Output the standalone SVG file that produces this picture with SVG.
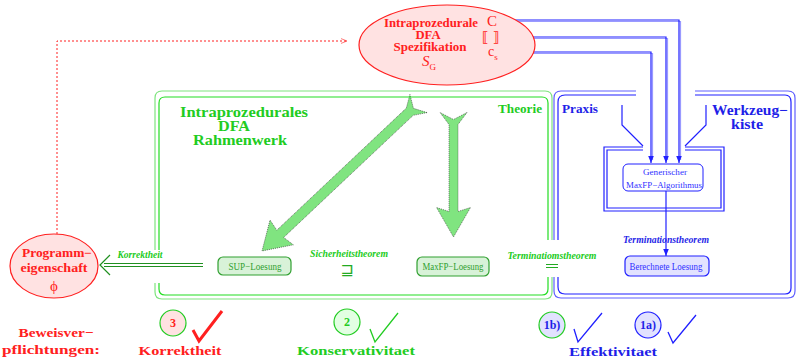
<svg xmlns="http://www.w3.org/2000/svg" width="796" height="359" viewBox="0 0 796 359">
<defs>
<style>
.b{font-family:"Liberation Serif",serif;font-weight:bold}
.i{font-family:"Liberation Serif",serif;font-weight:bold;font-style:italic}
.n{font-family:"Liberation Serif",serif}
.red{fill:#ff2020}.grn{fill:#22cc22}.blu{fill:#1f1fe8}
.fat{fill:#80e480;stroke:#333;stroke-width:0.6;stroke-dasharray:1 1}
.bl{fill:none;stroke:#2020ff;stroke-width:1.2}
.bl2{fill:none;stroke:#9a9aff;stroke-width:1.2}
</style>
<marker id="ab" viewBox="0 0 10 10" refX="10" refY="5" markerWidth="7" markerHeight="7" orient="auto" markerUnits="userSpaceOnUse"><path d="M0,1 L10,5 L0,9 Z" fill="#2020ff"/></marker>
<marker id="ar" viewBox="0 0 10 10" refX="10" refY="5" markerWidth="7" markerHeight="6" orient="auto" markerUnits="userSpaceOnUse"><path d="M0,1 L10,5 L0,9" fill="none" stroke="#ff2020"/></marker>
</defs>
<rect width="796" height="359" fill="#fff"/>

<g id="connectors">
<path d="M57,234 V41 H347" fill="none" stroke="#ff2020" stroke-width="1" stroke-dasharray="2 2" marker-end="url(#ar)"/>
<path class="bl2" d="M505,21.5 H680.5 V160"/>
<path class="bl2" d="M505,38.5 H667.5 V160"/>
<path class="bl2" d="M505,53.5 H652.5 V160"/>
<path class="bl" d="M505,20 H679 V163" marker-end="url(#ab)"/>
<path class="bl" d="M505,37 H666 V163" marker-end="url(#ab)"/>
<path class="bl" d="M505,52 H651 V163" marker-end="url(#ab)"/>
<path class="bl" d="M666,191 V256" marker-end="url(#ab)"/>
<path class="bl" d="M622,105 V125 L643,146 M706,105 V125 L685,146"/>
<path class="bl" d="M643,147 H604 V211 H724 V147 H685"/>
<path class="bl" d="M643,150 H607 V208 H721 V150 H685"/>
<path d="M203,263.5 H104 M203,266.5 H104" stroke="#209020" stroke-width="1" fill="none"/>
<path d="M110,255 L100,265 L110,275" stroke="#209020" stroke-width="1.2" fill="none"/>
<g transform="translate(418.5,103.5) rotate(136.7)"><path class="fat" d="M0,-12.5 L12,-5 L190,-5 L188,-17 L215,0 L188,17 L190,5 L12,5 L0,12.5 L7,0 Z"/></g>
<g transform="translate(453.5,112.5) rotate(90)"><path class="fat" d="M0,-13.5 L12,-4.5 L99,-4.5 L95,-17 L124.5,0 L95,17 L99,4.5 L12,4.5 L0,13.5 L7,0 Z"/></g>
</g>

<g id="theorie">
<path d="M552,240 V98 Q552,91 545,91 H162 Q155,91 155,98 V250 M155,283 V292 Q155,299 162,299 H545 Q552,299 552,292 V277" fill="none" stroke="#7ee47e" stroke-width="1.2"/>
<path d="M548,240 V103 Q548,97 542,97 H165 Q159,97 159,103 V250 M159,283 V289 Q159,295 165,295 H542 Q548,295 548,289 V277" fill="none" stroke="#22dd22" stroke-width="1.2"/>
<text class="b grn" x="244" y="117" font-size="14" text-anchor="middle" textLength="128" lengthAdjust="spacingAndGlyphs">Intraprozedurales</text>
<text class="b grn" x="234" y="131" font-size="14" text-anchor="middle" textLength="32" lengthAdjust="spacingAndGlyphs">DFA</text>
<text class="b grn" x="240" y="145" font-size="14" text-anchor="middle" textLength="94" lengthAdjust="spacingAndGlyphs">Rahmenwerk</text>
<text class="b grn" x="520" y="113" font-size="13" text-anchor="middle" textLength="44" lengthAdjust="spacingAndGlyphs">Theorie</text>
</g>

<g id="praxis">
<path d="M636,91 H561 Q554,91 554,98 V240 M554,277 V291 Q554,298 561,298 H788 Q795,298 795,291 V98 Q795,91 788,91 H695" fill="none" stroke="#6060ff" stroke-width="1.2"/>
<path d="M636,95 H565 Q558,95 558,102 V240 M558,277 V287 Q558,294 565,294 H785 Q791,294 791,288 V102 Q791,95 785,95 H695" fill="none" stroke="#2020ff" stroke-width="1.2"/>
<text class="b blu" x="580" y="113" font-size="13" text-anchor="middle" textLength="36" lengthAdjust="spacingAndGlyphs">Praxis</text>
<text class="b blu" x="750" y="115" font-size="14" text-anchor="middle" textLength="76" lengthAdjust="spacingAndGlyphs">Werkzeug−</text>
<text class="b blu" x="747" y="129" font-size="14" text-anchor="middle" textLength="32" lengthAdjust="spacingAndGlyphs">kiste</text>
</g>

<g id="spezifikation">
<ellipse cx="447" cy="45" rx="88" ry="40" fill="#ffe2e2" stroke="#ff2020" stroke-width="1.2"/>
<text class="b red" x="431" y="27" font-size="11.5" text-anchor="middle" textLength="94" lengthAdjust="spacingAndGlyphs">Intraprozedurale</text>
<text class="b red" x="428" y="39" font-size="11.5" text-anchor="middle" textLength="25" lengthAdjust="spacingAndGlyphs">DFA</text>
<text class="b red" x="430" y="51" font-size="11.5" text-anchor="middle" textLength="73" lengthAdjust="spacingAndGlyphs">Spezifikation</text>
<text class="n red" x="422" y="66" font-size="15" font-style="italic">S<tspan font-size="9" dy="4" font-style="normal">G</tspan></text>
<text class="n red" x="487" y="26" font-size="15">C</text>
<text x="482" y="42" font-size="14" fill="#ff2020" font-family="DejaVu Sans,sans-serif" font-weight="bold" textLength="17" lengthAdjust="spacingAndGlyphs">⟦ ⟧</text>
<text class="n red" x="488" y="56" font-size="14">c<tspan font-size="9" dy="4">s</tspan></text>
</g>

<g id="algorithmus">
<rect x="623" y="164" width="80" height="27" rx="5" fill="#fff" stroke="#2020ff" stroke-width="1"/>
<text class="n" x="665" y="175" font-size="9" fill="#3030ff" text-anchor="middle" textLength="44" lengthAdjust="spacingAndGlyphs">Generischer</text>
<text class="n" x="664" y="188" font-size="9" fill="#3030ff" text-anchor="middle" textLength="76" lengthAdjust="spacingAndGlyphs">MaxFP−Algorithmus</text>
</g>

<g id="berechnete">
<rect x="625" y="256" width="84" height="20" rx="5" fill="#e2e2ff" stroke="#2020ff" stroke-width="1.2"/>
<text class="n" x="666" y="270" font-size="10" fill="#3030ff" text-anchor="middle" textLength="73" lengthAdjust="spacingAndGlyphs">Berechnete Loesung</text>
</g>

<g id="sup">
<rect x="218" y="257" width="73" height="18" rx="5" fill="#d8f2d8" stroke="#30a030" stroke-width="1.2"/>
<text class="n" x="255" y="269.5" font-size="10" fill="#30a030" text-anchor="middle" textLength="53" lengthAdjust="spacingAndGlyphs">SUP−Loesung</text>
</g>

<g id="maxfp">
<rect x="417" y="257" width="72" height="19" rx="5" fill="#d8f2d8" stroke="#30a030" stroke-width="1.2"/>
<text class="n" x="453" y="270" font-size="10" fill="#30a030" text-anchor="middle" textLength="61" lengthAdjust="spacingAndGlyphs">MaxFP−Loesung</text>
</g>

<g id="programmeigenschaft">
<ellipse cx="54" cy="266" rx="44" ry="32" fill="#ffe2e2" stroke="#ff2020" stroke-width="1.2"/>
<text class="b red" x="57" y="257" font-size="12" text-anchor="middle" textLength="70" lengthAdjust="spacingAndGlyphs">Programm−</text>
<text class="b red" x="54" y="272" font-size="12" text-anchor="middle" textLength="67" lengthAdjust="spacingAndGlyphs">eigenschaft</text>
<text class="n red" x="54" y="291" font-size="15" text-anchor="middle">ϕ</text>
</g>

<g id="labels">
<text class="i grn" x="140" y="258" font-size="9.5" text-anchor="middle" textLength="45" lengthAdjust="spacingAndGlyphs">Korrektheit</text>
<text class="i grn" x="349" y="257" font-size="9.5" text-anchor="middle" textLength="78" lengthAdjust="spacingAndGlyphs">Sicherheitstheorem</text>
<text x="347" y="275" font-size="16" fill="#22aa22" text-anchor="middle" font-family="DejaVu Sans,sans-serif">⊒</text>
<text class="i grn" x="552" y="259" font-size="9.5" text-anchor="middle" textLength="89" lengthAdjust="spacingAndGlyphs">Terminatiomstheorem</text>
<path d="M546,264.5 H558 M546,267.5 H558" stroke="#22aa22" stroke-width="1.1"/>
<text class="i blu" x="666" y="243" font-size="9.5" text-anchor="middle" textLength="86" lengthAdjust="spacingAndGlyphs">Terminationstheorem</text>
</g>

<g id="beweis">
<text class="b red" x="56" y="337" font-size="13" text-anchor="middle" textLength="75" lengthAdjust="spacingAndGlyphs">Beweisver−</text>
<text class="b red" x="51" y="354" font-size="13" text-anchor="middle" textLength="98" lengthAdjust="spacingAndGlyphs">pflichtungen:</text>
</g>

<g id="korrektheit">
<circle cx="173" cy="323" r="13" fill="#ffe2e2" stroke="#22cc22" stroke-width="1.2"/>
<text class="b red" x="173" y="327" font-size="12" text-anchor="middle">3</text>
<polyline points="193,330 199,341 222,311" fill="none" stroke="#ff2020" stroke-width="3"/>
<text class="b red" x="180" y="355" font-size="13" text-anchor="middle" textLength="83" lengthAdjust="spacingAndGlyphs">Korrektheit</text>
</g>

<g id="konservativitaet">
<circle cx="347" cy="322" r="13" fill="#e2ffe2" stroke="#22cc22" stroke-width="1.2"/>
<text class="b grn" x="347" y="326" font-size="12" text-anchor="middle">2</text>
<polyline points="370,329 375,342 398,313" fill="none" stroke="#22cc22" stroke-width="1.3"/>
<text class="b grn" x="356" y="355" font-size="13" text-anchor="middle" textLength="118" lengthAdjust="spacingAndGlyphs">Konservativitaet</text>
</g>

<g id="effektivitaet">
<circle cx="552" cy="325" r="13" fill="#e2e2ff" stroke="#22cc22" stroke-width="1.2"/>
<text class="b blu" x="552" y="329" font-size="12" text-anchor="middle">1b)</text>
<polyline points="574,329 578,342 602,313" fill="none" stroke="#2020ff" stroke-width="1.3"/>
<circle cx="648" cy="325" r="13" fill="#e2e2ff" stroke="#2020ff" stroke-width="1.2"/>
<text class="b blu" x="648" y="329" font-size="12" text-anchor="middle">1a)</text>
<polyline points="668,332 673,343 696,315" fill="none" stroke="#2020ff" stroke-width="1.3"/>
<text class="b blu" x="613" y="356" font-size="13" text-anchor="middle" textLength="88" lengthAdjust="spacingAndGlyphs">Effektivitaet</text>
</g>
</svg>
